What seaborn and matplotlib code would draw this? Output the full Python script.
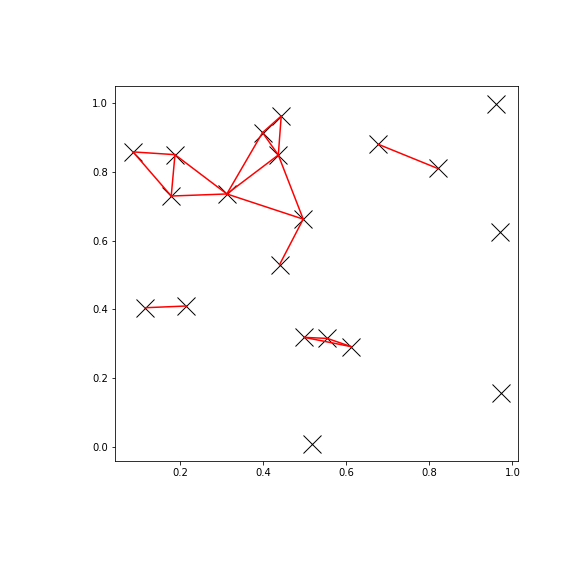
import matplotlib
matplotlib.use("Agg")
import matplotlib.pyplot as plt
import seaborn as sns
import pandas as pd

# Point coordinates
px = [0.086, 0.187, 0.178, 0.312, 0.398, 0.443, 0.436, 0.496, 0.439,
      0.677, 0.820, 0.960, 0.969, 0.115, 0.214, 0.499, 0.554, 0.612, 0.972, 0.518]
py = [0.857, 0.849, 0.729, 0.735, 0.913, 0.961, 0.848, 0.662, 0.530,
      0.879, 0.809, 0.997, 0.625, 0.405, 0.410, 0.319, 0.316, 0.292, 0.159, 0.010]

# Edges (pairs of point indices)
edge_a = [0, 0, 1, 1, 2, 3, 3, 3, 4, 4, 5, 6, 7, 9, 13, 15, 16, 15]
edge_b = [1, 2, 2, 3, 3, 4, 6, 7, 5, 6, 6, 7, 8, 10, 14, 16, 17, 17]

pts = pd.DataFrame({"x": px, "y": py})
rows = []
for k, (a, b) in enumerate(zip(edge_a, edge_b)):
    rows.append({"edge": k, "order": 0, "x": px[a], "y": py[a]})
    rows.append({"edge": k, "order": 1, "x": px[b], "y": py[b]})
edges = pd.DataFrame(rows)

fig = plt.figure(figsize=(8, 8), dpi=72)
ax = fig.add_axes([0.2, 0.2, 0.7, 0.65])

sns.scatterplot(data=pts, x="x", y="y", marker="x", color="black",
                s=324, linewidth=1, ax=ax, zorder=2)
sns.lineplot(data=edges, x="x", y="y", units="edge", estimator=None,
             sort=False, color="red", linewidth=1.5, ax=ax, zorder=3)

ax.set_xlim(0.043, 1.0145)
ax.set_ylim(-0.039, 1.047)
ax.set_xticks([0.2, 0.4, 0.6, 0.8, 1.0])
ax.set_yticks([0.0, 0.2, 0.4, 0.6, 0.8, 1.0])
ax.set_xlabel("")
ax.set_ylabel("")

fig.savefig("out.png", dpi=72)
